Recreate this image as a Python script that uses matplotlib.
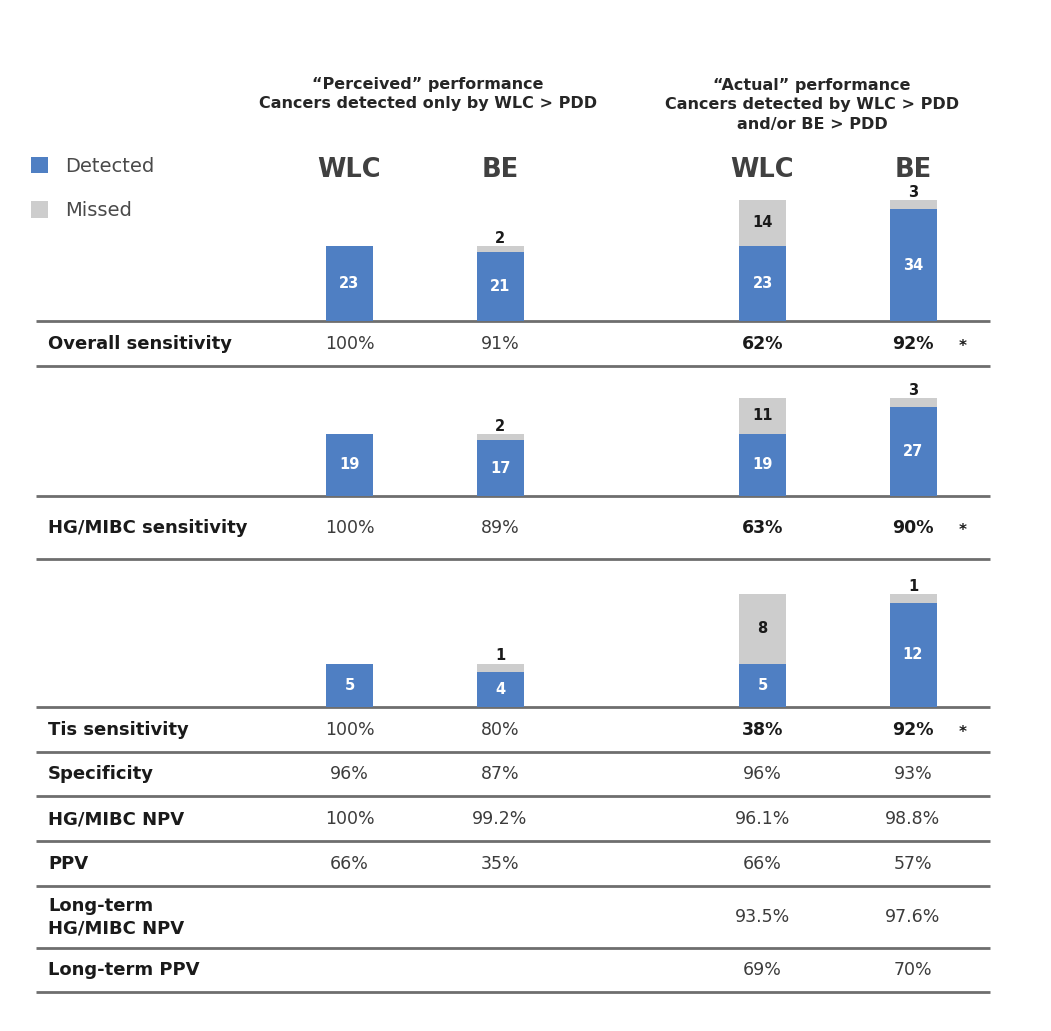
import matplotlib
matplotlib.use("Agg")
import matplotlib.pyplot as plt
from matplotlib.patches import Rectangle

plt.rcParams['font.family'] = ['DejaVu Sans']

# data
columns = ['WLC', 'BE', 'WLC', 'BE']
overall_detected = [23, 21, 23, 34]
overall_missed = [0, 2, 14, 3]
hg_detected = [19, 17, 19, 27]
hg_missed = [0, 2, 11, 3]
tis_detected = [5, 4, 5, 12]
tis_missed = [0, 1, 8, 1]

row_labels = ['Overall sensitivity', 'HG/MIBC sensitivity', 'Tis sensitivity',
              'Specificity', 'HG/MIBC NPV', 'PPV', 'Long-term\nHG/MIBC NPV',
              'Long-term PPV']
row_values = [
    ['100%', '91%', '62%', '92%'],
    ['100%', '89%', '63%', '90%'],
    ['100%', '80%', '38%', '92%'],
    ['96%', '87%', '96%', '93%'],
    ['100%', '99.2%', '96.1%', '98.8%'],
    ['66%', '35%', '66%', '57%'],
    ['', '', '93.5%', '97.6%'],
    ['', '', '69%', '70%'],
]
significant = [True, True, True, False, False, False, False, False]

# layout (pixels)
W, H = 1051, 1031
col_x = [349.5, 500, 762.5, 913]
bar_w = 47
line_x0, line_x1 = 36, 990
lines_y = [321, 366, 496, 559, 707, 752, 796, 841, 886, 948, 992]
row_y = [344, 528, 730, 774, 819, 864, 917, 970]
BLUE = '#4f7fc3'
GREY = '#cdcdcd'

fig = plt.figure(figsize=(W / 100, H / 100), dpi=100)
ax0 = fig.add_axes([0, 0, 1, 1])
ax0.set_xlim(0, W)
ax0.set_ylim(H, 0)
ax0.axis('off')

# headers
ax0.text(428, 94, '\u201cPerceived\u201d performance\nCancers detected only by WLC > PDD',
         ha='center', va='center', fontsize=11.5, fontweight='bold',
         color='#262626', linespacing=1.4)
ax0.text(812, 105, '\u201cActual\u201d performance\nCancers detected by WLC > PDD\nand/or BE > PDD',
         ha='center', va='center', fontsize=11.5, fontweight='bold',
         color='#262626', linespacing=1.4)
for x, name in zip(col_x, columns):
    ax0.text(x, 170, name, ha='center', va='center', fontsize=18.5,
             fontweight='bold', color='#404040')

# legend
ax0.add_patch(Rectangle((31, 157), 17, 16, color=BLUE, lw=0))
ax0.add_patch(Rectangle((31, 201), 17, 17, color=GREY, lw=0))
ax0.text(65, 166, 'Detected', ha='left', va='center', fontsize=14, color='#4a4a4a')
ax0.text(65, 211, 'Missed', ha='left', va='center', fontsize=14, color='#4a4a4a')

# horizontal rules
for y in lines_y:
    ax0.plot([line_x0, line_x1], [y, y], color='#6e6e6e', lw=2, solid_capstyle='butt')

# table
for i, (lab, vals, y) in enumerate(zip(row_labels, row_values, row_y)):
    ax0.text(48, y, lab, ha='left', va='center', fontsize=13,
             fontweight='bold', color='#1a1a1a', linespacing=1.3)
    for j, (x, v) in enumerate(zip(col_x, vals)):
        bold = significant[i] and j >= 2
        ax0.text(x, y, v, ha='center', va='center', fontsize=12.5,
                 fontweight='bold' if bold else 'normal',
                 color='#1a1a1a' if bold else '#3c3c3c')
    if significant[i]:
        ax0.text(963, y + 2, '*', ha='center', va='center', fontsize=11,
                 fontweight='bold', color='#1a1a1a')


def bar_section(detected, missed, base_y, top_y, px_per_unit):
    ax = fig.add_axes([0, 1 - base_y / H, 1, (base_y - top_y) / H])
    ax.set_xlim(0, W)
    ax.set_ylim(0, (base_y - top_y) / px_per_unit)
    ax.axis('off')
    ax.bar(col_x, detected, width=bar_w, color=BLUE, lw=0)
    ax.bar(col_x, missed, width=bar_w, bottom=detected, color=GREY, lw=0)
    for x, d, m in zip(col_x, detected, missed):
        ax.text(x, d / 2, str(d), ha='center', va='center', fontsize=10.5,
                fontweight='bold', color='white')
        if m == 0:
            continue
        if m * px_per_unit > 30:
            ax.text(x, d + m / 2, str(m), ha='center', va='center',
                    fontsize=10.5, fontweight='bold', color='#1a1a1a')
        else:
            ax.text(x, d + m, str(m), ha='center', va='bottom',
                    fontsize=10.5, fontweight='bold', color='#1a1a1a')
    return ax


bar_section(overall_detected, overall_missed, 321, 185, 3.28)
bar_section(hg_detected, hg_missed, 496, 370, 3.28)
bar_section(tis_detected, tis_missed, 707, 562, 8.7)

fig.savefig('out.png', dpi=100)
